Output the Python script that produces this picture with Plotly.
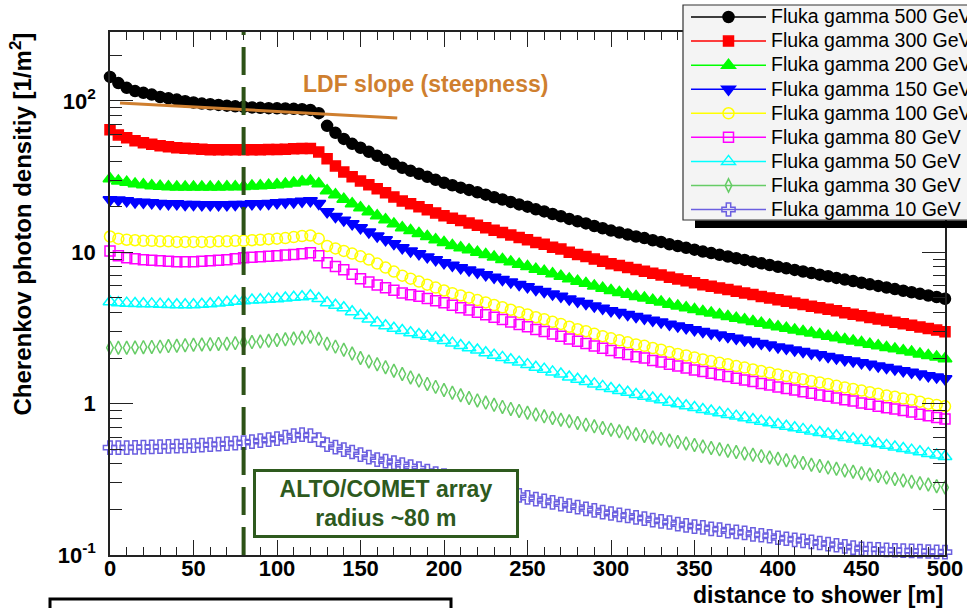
import plotly.graph_objects as go

# ---------------- data ----------------
distance_m = [0, 5, 10, 15, 20, 25, 30, 35, 40, 45,
              50, 55, 60, 65, 70, 75, 80, 85, 90, 95,
              100, 105, 110, 115, 120, 125, 130, 135, 140, 145,
              150, 155, 160, 165, 170, 175, 180, 185, 190, 195,
              200, 205, 210, 215, 220, 225, 230, 235, 240, 245,
              250, 255, 260, 265, 270, 275, 280, 285, 290, 295,
              300, 305, 310, 315, 320, 325, 330, 335, 340, 345,
              350, 355, 360, 365, 370, 375, 380, 385, 390, 395,
              400, 405, 410, 415, 420, 425, 430, 435, 440, 445,
              450, 455, 460, 465, 470, 475, 480, 485, 490, 495,
              500]

gamma_500 = [144, 131, 122, 116, 113, 110, 106, 104, 102, 99.5,
             97.5, 96, 95, 94, 93, 92, 91.3, 90.5, 90, 89.5,
             89.3, 89, 88.6, 88, 87.2, 83, 68.4, 61.5, 56.1, 52.0,
             49.0, 46.1, 43.4, 40.8, 38.4, 36.1, 34.5, 33.0, 31.5, 30.1,
             28.8, 27.7, 26.7, 25.8, 24.9, 24.0, 23.1, 22.3, 21.5, 20.7,
             20.0, 19.2, 18.6, 17.9, 17.3, 16.6, 16.0, 15.5, 14.9, 14.4,
             13.9, 13.5, 13.1, 12.7, 12.4, 12.0, 11.7, 11.3, 11.0, 10.7,
             10.4, 10.1, 9.87, 9.61, 9.37, 9.13, 8.90, 8.67, 8.45, 8.24,
             8.02, 7.83, 7.64, 7.46, 7.28, 7.11, 6.94, 6.77, 6.60, 6.45,
             6.29, 6.14, 5.99, 5.85, 5.71, 5.57, 5.44, 5.31, 5.18, 5.06,
             4.93]

gamma_300 = [64.4, 59.6, 57.0, 54.5, 52.8, 51.6, 50.5, 49.7, 49.0, 48.6,
             48.2, 47.9, 47.6, 47.5, 47.5, 47.5, 47.5, 47.5, 47.6, 47.7,
             47.8, 48.0, 48.2, 48.4, 48.5, 46.0, 41.4, 37.2, 33.9, 31.5,
             29.6, 27.9, 26.3, 24.7, 23.2, 21.8, 20.9, 20.0, 19.1, 18.2,
             17.4, 16.8, 16.2, 15.6, 15.1, 14.5, 14.0, 13.5, 13.0, 12.5,
             12.1, 11.6, 11.3, 10.8, 10.5, 10.0, 9.68, 9.38, 9.01, 8.71,
             8.41, 8.17, 7.93, 7.68, 7.50, 7.26, 7.08, 6.84, 6.66, 6.47,
             6.29, 6.11, 5.97, 5.81, 5.67, 5.52, 5.38, 5.25, 5.11, 4.99,
             4.85, 4.74, 4.62, 4.51, 4.40, 4.30, 4.20, 4.10, 3.99, 3.90,
             3.81, 3.71, 3.62, 3.54, 3.45, 3.37, 3.29, 3.21, 3.13, 3.06,
             2.98]

gamma_200 = [30.6, 29.6, 29.0, 28.3, 27.9, 27.5, 27.3, 27.1, 27.0, 27.0,
             27.0, 27.0, 27.0, 27.0, 27.1, 27.1, 27.2, 27.4, 27.5, 27.7,
             27.9, 28.2, 28.7, 29.2, 29.6, 28.4, 25.5, 24.0, 22.4, 20.9,
             19.7, 18.5, 17.4, 16.4, 15.4, 14.5, 13.9, 13.3, 12.7, 12.1,
             11.6, 11.1, 10.7, 10.4, 10.0, 9.65, 9.29, 8.96, 8.64, 8.32,
             8.04, 7.72, 7.48, 7.20, 6.95, 6.67, 6.43, 6.23, 5.99, 5.79,
             5.59, 5.43, 5.27, 5.11, 4.98, 4.82, 4.70, 4.54, 4.42, 4.30,
             4.18, 4.06, 3.97, 3.86, 3.77, 3.67, 3.58, 3.49, 3.40, 3.31,
             3.22, 3.15, 3.07, 3.00, 2.93, 2.86, 2.79, 2.72, 2.65, 2.59,
             2.53, 2.47, 2.41, 2.35, 2.30, 2.24, 2.19, 2.13, 2.08, 2.03,
             1.98]

gamma_150 = [22.2, 22.1, 21.9, 21.5, 21.4, 21.2, 21.0, 20.9, 20.9, 20.7,
             20.7, 20.6, 20.6, 20.6, 20.6, 20.7, 20.7, 20.9, 20.9, 21.0,
             21.2, 21.4, 21.5, 21.7, 21.9, 21.0, 18.5, 17.2, 16.3, 15.4,
             14.5, 13.6, 12.8, 12.1, 11.4, 10.7, 10.2, 9.77, 9.32, 8.91,
             8.52, 8.20, 7.90, 7.64, 7.37, 7.10, 6.84, 6.60, 6.36, 6.13,
             5.92, 5.68, 5.51, 5.30, 5.12, 4.91, 4.74, 4.59, 4.41, 4.26,
             4.11, 4.00, 3.88, 3.76, 3.67, 3.55, 3.46, 3.34, 3.26, 3.17,
             3.08, 2.99, 2.92, 2.84, 2.77, 2.70, 2.63, 2.57, 2.50, 2.44,
             2.37, 2.32, 2.26, 2.21, 2.15, 2.10, 2.05, 2.00, 1.95, 1.91,
             1.86, 1.82, 1.77, 1.73, 1.69, 1.65, 1.61, 1.57, 1.53, 1.50,
             1.46]

gamma_100 = [12.7, 12.3, 12.1, 12.0, 11.9, 11.9, 11.8, 11.8, 11.7, 11.7,
             11.7, 11.7, 11.7, 11.8, 11.8, 11.9, 11.9, 12.0, 12.1, 12.2,
             12.3, 12.4, 12.6, 12.8, 12.9, 12.3, 11.0, 10.6, 10.2, 9.80,
             9.40, 8.94, 8.42, 7.92, 7.45, 7.00, 6.69, 6.40, 6.11, 5.84,
             5.59, 5.37, 5.18, 5.01, 4.83, 4.66, 4.48, 4.33, 4.17, 4.02,
             3.88, 3.72, 3.61, 3.47, 3.36, 3.22, 3.10, 3.01, 2.89, 2.79,
             2.70, 2.62, 2.54, 2.46, 2.41, 2.33, 2.27, 2.19, 2.13, 2.08,
             2.02, 1.96, 1.91, 1.86, 1.82, 1.77, 1.73, 1.68, 1.64, 1.60,
             1.56, 1.52, 1.48, 1.45, 1.41, 1.38, 1.35, 1.31, 1.28, 1.25,
             1.22, 1.19, 1.16, 1.13, 1.11, 1.08, 1.06, 1.03, 1.00, 0.98,
             0.96]

gamma_80 = [10.2, 9.48, 9.20, 9.07, 8.92, 8.86, 8.79, 8.72, 8.66, 8.66,
            8.66, 8.72, 8.79, 8.86, 8.92, 9.06, 9.20, 9.27, 9.34, 9.41,
            9.48, 9.58, 9.67, 9.77, 9.92, 9.48, 8.53, 8.05, 7.66, 7.15,
            6.68, 6.35, 6.07, 5.83, 5.61, 5.38, 5.24, 5.12, 4.95, 4.79,
            4.64, 4.46, 4.30, 4.15, 4.01, 3.86, 3.72, 3.59, 3.46, 3.33,
            3.22, 3.09, 2.99, 2.88, 2.79, 2.67, 2.58, 2.50, 2.40, 2.32,
            2.24, 2.17, 2.11, 2.04, 2.00, 1.93, 1.88, 1.82, 1.77, 1.72,
            1.67, 1.63, 1.59, 1.55, 1.51, 1.47, 1.43, 1.40, 1.36, 1.33,
            1.29, 1.26, 1.23, 1.20, 1.17, 1.14, 1.12, 1.09, 1.06, 1.04,
            1.01, 0.99, 0.96, 0.94, 0.92, 0.90, 0.88, 0.85, 0.83, 0.81,
            0.79]

gamma_50 = [4.71, 4.64, 4.61, 4.59, 4.57, 4.56, 4.54, 4.52, 4.50, 4.50,
            4.50, 4.53, 4.57, 4.62, 4.68, 4.74, 4.79, 4.83, 4.86, 4.90,
            4.93, 4.99, 5.04, 5.08, 5.16, 4.95, 4.64, 4.47, 4.30, 4.05,
            3.82, 3.62, 3.42, 3.27, 3.15, 3.04, 2.94, 2.86, 2.79, 2.71,
            2.61, 2.51, 2.42, 2.34, 2.26, 2.17, 2.09, 2.02, 1.95, 1.88,
            1.81, 1.74, 1.69, 1.62, 1.57, 1.50, 1.45, 1.40, 1.35, 1.30,
            1.26, 1.22, 1.19, 1.15, 1.12, 1.09, 1.06, 1.02, 0.997, 0.969,
            0.942, 0.915, 0.894, 0.871, 0.849, 0.827, 0.806, 0.786, 0.766, 0.747,
            0.727, 0.709, 0.692, 0.676, 0.660, 0.644, 0.629, 0.613, 0.598, 0.584,
            0.570, 0.556, 0.543, 0.530, 0.517, 0.505, 0.493, 0.481, 0.469, 0.458,
            0.447]

gamma_30 = [2.34, 2.34, 2.34, 2.35, 2.36, 2.37, 2.38, 2.40, 2.41, 2.43,
            2.45, 2.46, 2.47, 2.48, 2.49, 2.51, 2.53, 2.55, 2.57, 2.60,
            2.63, 2.66, 2.69, 2.73, 2.77, 2.68, 2.49, 2.38, 2.27, 2.14,
            2.00, 1.90, 1.82, 1.74, 1.65, 1.57, 1.49, 1.42, 1.35, 1.29,
            1.23, 1.18, 1.135, 1.09, 1.05, 1.016, 0.982, 0.951, 0.923, 0.895,
            0.871, 0.847, 0.824, 0.803, 0.783, 0.764, 0.745, 0.726, 0.708, 0.690,
            0.673, 0.656, 0.641, 0.627, 0.612, 0.598, 0.585, 0.571, 0.558, 0.546,
            0.533, 0.521, 0.509, 0.499, 0.489, 0.479, 0.469, 0.459, 0.450, 0.441,
            0.432, 0.423, 0.413, 0.405, 0.395, 0.387, 0.378, 0.371, 0.362, 0.355,
            0.347, 0.340, 0.333, 0.325, 0.318, 0.311, 0.305, 0.298, 0.292, 0.285,
            0.279]

gamma_10 = [0.512, 0.512, 0.512, 0.514, 0.516, 0.518, 0.520, 0.522, 0.524, 0.526,
            0.528, 0.532, 0.536, 0.540, 0.544, 0.548, 0.553, 0.561, 0.570, 0.579,
            0.588, 0.601, 0.615, 0.624, 0.615, 0.579, 0.536, 0.516, 0.497, 0.479,
            0.461, 0.443, 0.427, 0.417, 0.408, 0.396, 0.384, 0.372, 0.358, 0.345,
            0.335, 0.324, 0.313, 0.303, 0.293, 0.283, 0.274, 0.265, 0.256, 0.248,
            0.240, 0.234, 0.228, 0.223, 0.217, 0.212, 0.207, 0.202, 0.197, 0.192,
            0.188, 0.184, 0.181, 0.177, 0.174, 0.170, 0.167, 0.164, 0.160, 0.157,
            0.154, 0.152, 0.149, 0.147, 0.144, 0.142, 0.140, 0.137, 0.135, 0.133,
            0.130, 0.128, 0.126, 0.124, 0.122, 0.120, 0.118, 0.116, 0.114, 0.112,
            0.110, 0.1095, 0.109, 0.108, 0.1075, 0.107, 0.1065, 0.106, 0.1055, 0.105,
            0.1045]

series_names = ["Fluka gamma 500 GeV", "Fluka gamma 300 GeV", "Fluka gamma 200 GeV",
                "Fluka gamma 150 GeV", "Fluka gamma 100 GeV", "Fluka gamma 80 GeV",
                "Fluka gamma 50 GeV", "Fluka gamma 30 GeV", "Fluka gamma 10 GeV"]
series_values = [gamma_500, gamma_300, gamma_200, gamma_150, gamma_100,
                 gamma_80, gamma_50, gamma_30, gamma_10]

# LDF slope guide line (two end points)
ldf_x = [6, 172]
ldf_y = [97, 77]

array_radius_m = 80

y_tick_vals = [0.1, 1, 10, 100]
y_tick_text = ["<b>10<sup>-1</sup></b>", "<b>1</b>", "<b>10</b>", "<b>10<sup>2</sup></b>"]

# ---------------- styling ----------------
styles = [
    dict(color="#000000", symbol="circle", size=11),
    dict(color="#ff0000", symbol="square", size=10),
    dict(color="#00ff00", symbol="triangle-up", size=12),
    dict(color="#0000ff", symbol="triangle-down", size=12),
    dict(color="#ffff00", symbol="circle-open", size=11),
    dict(color="#ff00ff", symbol="square-open", size=10),
    dict(color="#00ffff", symbol="triangle-up-open", size=12),
    dict(color="#66cc66", symbol="diamond-tall-open", size=9.5),
    dict(color="#6b5fe0", symbol="cross-open", size=11),
]

W, H = 967, 608
L, R, T, B = 110, 22, 32, 53
PW, PH = W - L - R, H - T - B


def pxx(xp):
    return (xp - L) / PW


def pxy(yp):
    return (H - B - yp) / PH


FONT = "Liberation Sans"
fig = go.Figure()

for name, vals, st in zip(series_names, series_values, styles):
    fig.add_trace(go.Scatter(
        x=distance_m, y=vals, mode="markers", name=name, showlegend=False,
        cliponaxis=False,
        marker=dict(symbol=st["symbol"], size=st["size"], color=st["color"],
                    line=dict(color=st["color"], width=1.5)),
    ))

# legend entries (line + marker, ROOT style)
for name, st in zip(series_names, styles):
    fig.add_trace(go.Scatter(
        x=[None], y=[None], mode="lines+markers",
        name="<span style='font-size:19.5px'>" + name + "</span>", showlegend=True,
        line=dict(color=st["color"], width=1.5),
        marker=dict(symbol=st["symbol"], size=st["size"], color=st["color"],
                    line=dict(color=st["color"], width=1.5)),
    ))

fig.add_trace(go.Scatter(
    x=ldf_x, y=ldf_y, mode="lines", showlegend=False, cliponaxis=False,
    line=dict(color="#cf7f2f", width=3),
))

tick_col = "#222222"
minor_y = [m * 10 ** e for e in (-1, 0, 1) for m in range(2, 10)] + [200]

fig.update_layout(
    width=W, height=H,
    margin=dict(l=L, r=R, t=T, b=B, autoexpand=False),
    paper_bgcolor="white", plot_bgcolor="white",
    font=dict(family=FONT, color="black"),
    xaxis=dict(
        range=[0, 500], tick0=0, dtick=50, ticks="inside", ticklen=15, tickwidth=1.3,
        tickcolor=tick_col, showline=True, linecolor=tick_col, linewidth=1.5,
        mirror="allticks", showgrid=False, zeroline=False, ticklabelstandoff=-7,
        tickfont=dict(family=FONT, size=22, color="black", weight="bold"),
        minor=dict(dtick=10, ticks="inside", ticklen=8, tickwidth=1.2, tickcolor=tick_col,
                   showgrid=False),
    ),
    yaxis=dict(
        type="log", range=[-1, 2.455], tickmode="array", tickvals=y_tick_vals,
        ticktext=y_tick_text, ticks="inside", ticklen=23, tickwidth=1.3,
        tickcolor=tick_col, showline=True, linecolor=tick_col, linewidth=1.5,
        mirror="allticks", showgrid=False, zeroline=False, ticklabelstandoff=8,
        tickfont=dict(family=FONT, size=22, color="black"),
        minor=dict(tickmode="array", tickvals=minor_y, ticks="inside", ticklen=12,
                   tickwidth=1.2, tickcolor=tick_col, showgrid=False),
    ),
    legend=dict(
        x=pxx(686), y=pxy(0), xanchor="left", yanchor="top",
        bgcolor="rgba(0,0,0,0)", borderwidth=0, itemwidth=75,
        font=dict(family=FONT, size=16.2, color="black"),
    ),
)

shapes = [
    # legend frame + ROOT shadow
    dict(type="rect", xref="paper", yref="paper", x0=pxx(683), x1=pxx(1010),
         y0=pxy(5), y1=pxy(220), fillcolor="#f4f4f4",
         line=dict(color="#333333", width=1.2), layer="above"),
    dict(type="rect", xref="paper", yref="paper", x0=pxx(695), x1=pxx(1010),
         y0=pxy(220.5), y1=pxy(228), fillcolor="black", line=dict(width=0), layer="above"),
    # array radius dashed line
    dict(type="line", xref="x", yref="paper", x0=array_radius_m, x1=array_radius_m,
         y0=0, y1=1, line=dict(color="#2d5217", width=4, dash="28px,12px"), layer="above"),
    # partially visible box at the bottom
    dict(type="rect", xref="paper", yref="paper", x0=pxx(50), x1=pxx(451),
         y0=pxy(599), y1=pxy(640), line=dict(color="black", width=3), layer="above"),
]
fig.update_layout(shapes=shapes)

fig.add_annotation(
    xref="paper", yref="paper", x=pxx(425), y=pxy(84), showarrow=False,
    xanchor="center", yanchor="middle",
    text="<b>LDF slope (steepness)</b>",
    font=dict(family=FONT, size=23, color="#cf7f2f"),
)
fig.add_annotation(
    xref="paper", yref="paper", x=pxx(386), y=pxy(503.5), showarrow=False,
    xanchor="center", yanchor="middle",
    text="<b>ALTO/COMET array<br>radius ~80 m</b>",
    font=dict(family=FONT, size=23, color="#2e5a1e"),
    bordercolor="#2e5a1e", borderwidth=3, borderpad=2, bgcolor="white",
    width=256, height=59,
)
fig.add_annotation(
    xref="paper", yref="paper", x=pxx(20), y=pxy(31), showarrow=False,
    textangle=-90, xanchor="center", yanchor="top",
    text="<b>Cherenkov photon densitiy [1/m<sup>2</sup>]</b>",
    font=dict(family=FONT, size=24, color="black"),
)
fig.add_annotation(
    xref="paper", yref="paper", x=pxx(945), y=pxy(595), showarrow=False,
    xanchor="right", yanchor="middle",
    text="<b>distance to shower [m]</b>",
    font=dict(family=FONT, size=23, color="black"),
)

fig.write_html("out.html")
